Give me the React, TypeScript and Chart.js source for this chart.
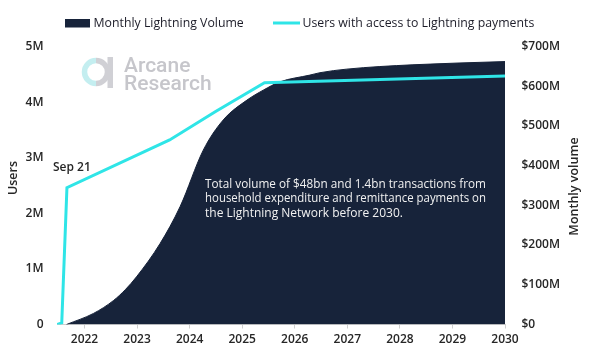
import { useEffect, useRef } from 'react';
import { Chart, registerables } from 'chart.js';

Chart.register(...registerables);

// ---- data ----
const userDates = ['2021-06-24', '2021-07-27', '2021-09-01', '2023-08-15', '2024-06-30', '2025-06-05', '2030-01-01'];
const userValues = [0, 30000, 2460000, 3320000, 3830000, 4350000, 4470000];

const volumeDates = [
  '2021-08-29', '2022-03-05', '2022-07-20', '2022-10-12', '2022-12-28', '2023-06-10', '2023-10-27',
  '2024-04-05', '2024-08-22', '2025-02-03', '2025-05-27', '2025-09-20', '2026-04-16',
  '2026-06-25', '2026-12-28', '2028-04-01', '2030-01-01',
];
const volumeValues = [0, 28, 60, 88, 120, 204, 297, 439, 515, 565, 590, 611, 628, 634, 643, 654, 662];

const xTickYears = [2022, 2023, 2024, 2025, 2026, 2027, 2028, 2029, 2030];
const userTickValues = [0, 1000000, 2000000, 3000000, 4000000, 5000000];
const userTickLabels = ['0', '1M', '2M', '3M', '4M', '5M'];
const volumeTickValues = [0, 100, 200, 300, 400, 500, 600, 700];
const volumeTickLabels = ['$0', '$100M', '$200M', '$300M', '$400M', '$500M', '$600M', '$700M'];

const seriesNames = ['Monthly Lightning Volume', 'Users with access to Lightning payments'];
const markerLabel = 'Sep 21';
const markerIndex = 2;
const noteLines = [
  'Total volume of $48bn and 1.4bn transactions from',
  'household expenditure and remittance payments on',
  'the Lightning Network before 2030.',
];
const axisTitles = ['Users', 'Monthly volume'];
const logoWords = ['Arcane', 'Research'];

// ---- helpers ----
const toYear = (s: string) => {
  const [y, m, d] = s.split('-').map(Number);
  const t = Date.UTC(y, m - 1, d);
  const a = Date.UTC(y, 0, 1);
  const b = Date.UTC(y + 1, 0, 1);
  return y + (t - a) / (b - a);
};

const NAVY = '#17233a';
const CYAN = '#2fe5e7';
const TEXT = '#262626';
const FONT = "'Open Sans', 'Noto Sans', sans-serif";

function drawJustified(ctx: CanvasRenderingContext2D, text: string, x: number, y: number, width: number) {
  const words = text.split(' ');
  const ws = words.map((w) => ctx.measureText(w).width);
  const total = ws.reduce((a, b) => a + b, 0);
  const sp = ctx.measureText(' ').width;
  const natural = total + sp * (words.length - 1);
  ctx.save();
  ctx.translate(x, y);
  let gap = (width - total) / (words.length - 1);
  if (natural > width) {
    const k = width / natural;
    ctx.scale(k, 1);
    gap = sp;
  }
  let cx = 0;
  words.forEach((w, i) => {
    ctx.fillText(w, cx, 0);
    cx += ws[i] + gap;
  });
  ctx.restore();
}

const decorPlugin = {
  id: 'decor',
  beforeDatasetsDraw(chart: any) {
    const ctx = chart.ctx as CanvasRenderingContext2D;
    ctx.save();
    // watermark logo
    ctx.lineWidth = 5.5;
    ctx.strokeStyle = '#c4eef0';
    ctx.beginPath();
    ctx.arc(96, 72, 11.5, Math.PI / 2, Math.PI * 1.5);
    ctx.stroke();
    ctx.strokeStyle = '#d0d0d5';
    ctx.beginPath();
    ctx.arc(96, 72, 11.5, -Math.PI / 2, Math.PI / 2);
    ctx.stroke();
    ctx.fillStyle = '#d0d0d5';
    ctx.fillRect(107.5, 57, 5.5, 31);
    ctx.fillStyle = '#c6c6cb';
    ctx.font = "500 21px Roboto, 'Liberation Sans', sans-serif";
    ctx.textAlign = 'left';
    ctx.textBaseline = 'alphabetic';
    ctx.fillText(logoWords[0], 124, 71.5);
    ctx.fillText(logoWords[1], 124, 89.5);
    ctx.restore();
  },
  afterDatasetsDraw(chart: any) {
    const ctx = chart.ctx as CanvasRenderingContext2D;
    ctx.save();
    // note text
    ctx.fillStyle = '#f2f2f2';
    ctx.font = `12px ${FONT}`;
    ctx.textAlign = 'left';
    ctx.textBaseline = 'alphabetic';
    const x0 = 205;
    const w = 281;
    const baseY = 187.5;
    noteLines.forEach((line, i) => {
      const y = baseY + i * 14.7;
      if (i < noteLines.length - 1) drawJustified(ctx, line, x0, y, w);
      else ctx.fillText(line, x0, y);
    });

    // marker label
    const xs = chart.scales.x;
    const ys = chart.scales.y;
    const px = xs.getPixelForValue(toYear(userDates[markerIndex]));
    const py = ys.getPixelForValue(userValues[markerIndex]);
    ctx.fillStyle = TEXT;
    ctx.font = `600 12px ${FONT}`;
    ctx.textAlign = 'center';
    ctx.textBaseline = 'middle';
    ctx.fillText(markerLabel, px + 5, py - 20);

    // axis titles
    ctx.font = `600 12.5px ${FONT}`;
    ctx.save();
    ctx.translate(13, 178);
    ctx.rotate(-Math.PI / 2);
    ctx.fillText(axisTitles[0], 0, 0);
    ctx.restore();
    ctx.save();
    ctx.translate(574, 186.5);
    ctx.rotate(-Math.PI / 2);
    ctx.fillText(axisTitles[1], 0, 0);
    ctx.restore();

    // legend
    ctx.fillStyle = NAVY;
    ctx.fillRect(65, 19, 25, 8.5);
    ctx.strokeStyle = CYAN;
    ctx.lineWidth = 3;
    ctx.beginPath();
    ctx.moveTo(273, 23);
    ctx.lineTo(300, 23);
    ctx.stroke();
    ctx.fillStyle = '#1c1c28';
    ctx.font = `12.3px ${FONT}`;
    ctx.textAlign = 'left';
    ctx.textBaseline = 'middle';
    ctx.fillText(seriesNames[0], 93.5, 23);
    ctx.fillText(seriesNames[1], 302.5, 23);
    ctx.restore();
  },
};

export default function App() {
  const ref = useRef<HTMLCanvasElement>(null);

  useEffect(() => {
    if (!ref.current) return;
    const userData = userDates.map((d, i) => ({ x: toYear(d), y: userValues[i] }));
    const volumeData = volumeDates.map((d, i) => ({ x: toYear(d), y: volumeValues[i] }));
    const tickFont = { family: FONT, size: 12, weight: 600 as any };

    const chart = new Chart(ref.current, {
      type: 'line',
      data: {
        datasets: [
          {
            label: seriesNames[1],
            data: userData,
            yAxisID: 'y',
            borderColor: CYAN,
            borderWidth: 3,
            pointRadius: 0,
            tension: 0,
            fill: false,
            order: 0,
          },
          {
            label: seriesNames[0],
            data: volumeData,
            yAxisID: 'y2',
            borderColor: NAVY,
            backgroundColor: NAVY,
            borderWidth: 1,
            pointRadius: 0,
            cubicInterpolationMode: 'monotone',
            fill: 'origin',
            order: 1,
          },
        ],
      },
      options: {
        animation: false,
        responsive: false,
        layout: { padding: { top: 46.5, left: 0, right: 0, bottom: 0 } },
        plugins: { legend: { display: false }, tooltip: { enabled: false } },
        scales: {
          x: {
            type: 'linear',
            min: toYear(userDates[0]),
            max: xTickYears[xTickYears.length - 1],
            afterBuildTicks: (s: any) => {
              s.ticks = xTickYears.map((v) => ({ value: v }));
            },
            afterFit: (s: any) => {
              s.height = 24.5;
            },
            ticks: {
              callback: (v: any) => String(v),
              font: tickFont,
              color: TEXT,
              padding: 4,
              maxRotation: 0,
              autoSkip: false,
            },
            grid: { display: true, drawOnChartArea: false, drawTicks: true, tickLength: 4, color: '#cfcfcf' },
            border: { display: true, color: '#cfcfcf', width: 1 },
          },
          y: {
            position: 'left',
            min: 0,
            max: userTickValues[userTickValues.length - 1],
            afterBuildTicks: (s: any) => {
              s.ticks = userTickValues.map((v) => ({ value: v }));
            },
            afterFit: (s: any) => {
              s.width = 57;
            },
            ticks: {
              callback: (v: any) => userTickLabels[userTickValues.indexOf(Number(v))] ?? '',
              font: tickFont,
              color: TEXT,
              padding: 13.5,
            },
            grid: { display: false, drawTicks: false },
            border: { display: false },
          },
          y2: {
            position: 'right',
            min: 0,
            max: volumeTickValues[volumeTickValues.length - 1],
            afterBuildTicks: (s: any) => {
              s.ticks = volumeTickValues.map((v) => ({ value: v }));
            },
            afterFit: (s: any) => {
              s.width = 94;
            },
            ticks: {
              callback: (v: any) => volumeTickLabels[volumeTickValues.indexOf(Number(v))] ?? '',
              font: tickFont,
              color: TEXT,
              padding: 16.5,
            },
            grid: { display: false, drawTicks: false },
            border: { display: false },
          },
        },
      },
      plugins: [decorPlugin],
    } as any);
    return () => chart.destroy();
  }, []);

  return (
    <div style={{ position: 'fixed', left: 0, top: 0, width: 599, height: 349, background: '#fff' }}>
      <canvas ref={ref} width={599} height={349} style={{ display: 'block' }} />
    </div>
  );
}
